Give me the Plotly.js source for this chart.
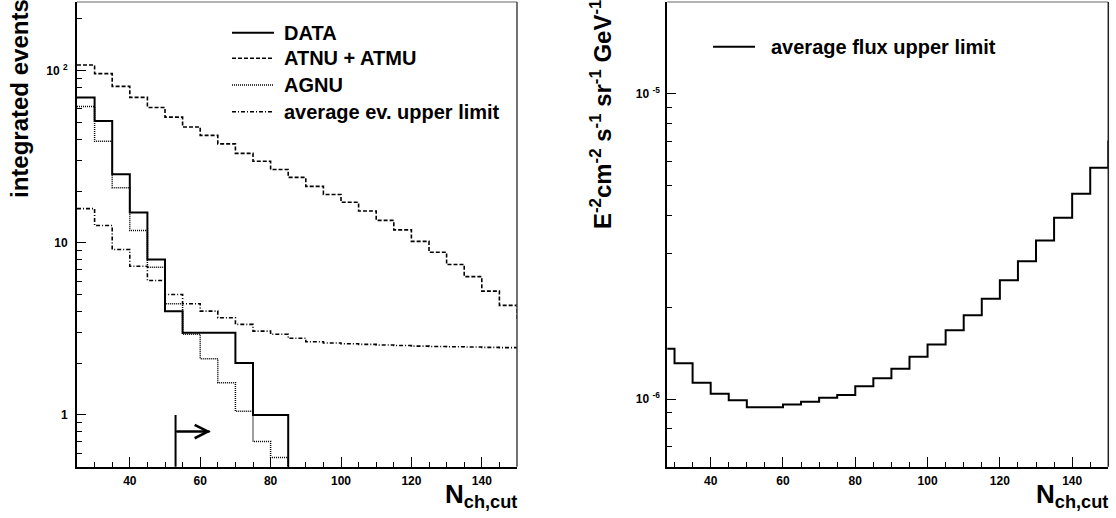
<!DOCTYPE html>
<html>
<head>
<meta charset="utf-8">
<script src="https://cdn.plot.ly/plotly-3.0.1.min.js"></script>
<style>html,body{margin:0;padding:0;background:#fff;}#chart{width:1116px;height:518px;}</style>
</head>
<body>
<div id="chart"></div>
<script>
// ---------------- data ----------------
// left panel: integrated events per cut bin (bins of width 5 starting at 25)
const binStart = 25;
const binWidth = 5;
const dataEvents   = [70, 51, 25, 15, 8, 4, 3, 3, 3, 2, 1, 1, 0, 0, 0, 0, 0, 0, 0, 0, 0, 0, 0, 0, 0, 0];
const atnuAtmu     = [108, 96.2, 81.1, 70.0, 61.2, 53.8, 47.1, 42.1, 37.6, 33.1, 29.8, 26.7, 24.0, 21.3, 19.1, 17.2, 15.3, 13.5, 11.9, 10.2, 8.82, 7.48, 6.36, 5.24, 4.33, 3.59];
const agnu         = [62, 38.9, 20.9, 11.8, 7.21, 4.43, 2.94, 2.12, 1.54, 1.05, 0.70, 0.565, 0.40, 0.30, 0.22];
const avgEvUpper   = [15.8, 12.6, 9.15, 7.31, 6.04, 5.01, 4.43, 4.01, 3.67, 3.36, 3.07, 2.94, 2.79, 2.66, 2.62, 2.59, 2.57, 2.55, 2.53, 2.51, 2.50, 2.49, 2.48, 2.47, 2.46, 2.46];
// right panel: average flux upper limit
const fluxUpper    = [1.46e-6, 1.31e-6, 1.13e-6, 1.04e-6, 0.99e-6, 0.94e-6, 0.94e-6, 0.96e-6, 0.98e-6, 1.01e-6, 1.03e-6, 1.10e-6, 1.169e-6, 1.257e-6, 1.376e-6, 1.51e-6, 1.68e-6, 1.88e-6, 2.13e-6, 2.45e-6, 2.83e-6, 3.31e-6, 3.93e-6, 4.71e-6, 5.73e-6, 6.98e-6];
const cutValue = 53;
const cutArrowEnd = 63;
const cutArrowLevel = 0.8;
const cutLineTop = 1;
const xTicksMajor = [40, 60, 80, 100, 120, 140];
const leftYTickVals = [1, 10, 100];
const leftYTickText = ['1', '10', '10 <sup>2</sup>'];
const rightYTickVals = [1e-6, 1e-5];
const rightYTickText = ['10 <sup>-6</sup>', '10 <sup>-5</sup>'];
const legendLeft = ['DATA', 'ATNU + ATMU', 'AGNU', 'average ev. upper limit'];
const legendRight = ['average flux upper limit'];

// ---------------- helpers ----------------
const FLOOR = 1e-12; // zero-content bins drawn far below the frame on log axes
function step(values) {
  const x = [], y = [];
  values.forEach((v, i) => { x.push(binStart + i * binWidth); y.push(v > 0 ? v : FLOOR); });
  x.push(binStart + values.length * binWidth);
  y.push(values[values.length - 1] > 0 ? values[values.length - 1] : FLOOR);
  return {x, y};
}
function minorX() { const a = []; for (let v = 25; v <= 150; v += 5) if (v % 20 !== 0) a.push(v); return a; }
function minorLog(lo, hi) {
  const a = [];
  for (let e = Math.floor(Math.log10(lo)) - 1; e <= Math.ceil(Math.log10(hi)); e++) {
    for (let m = 2; m <= 9; m++) { const v = m * Math.pow(10, e); if (v >= lo * 0.999 && v <= hi * 1.001) a.push(v); }
  }
  return a;
}

const W = 1116, H = 518;
const px = v => v / W, py = v => 1 - v / H;
const FONT = 'Liberation Sans, Arial, Helvetica, sans-serif';

const dataStep = step(dataEvents), atnuStep = step(atnuAtmu), agnuStep = step(agnu), avgStep = step(avgEvUpper), fluxStep = step(fluxUpper);

const traces = [
  {x: atnuStep.x, y: atnuStep.y, xaxis: 'x', yaxis: 'y', mode: 'lines', line: {shape: 'hv', color: '#000', width: 1.6, dash: '4px,2px'}, name: legendLeft[1]},
  {x: avgStep.x, y: avgStep.y, xaxis: 'x', yaxis: 'y', mode: 'lines', line: {shape: 'hv', color: '#000', width: 1.6, dash: '4px,2px,1px,2px'}, name: legendLeft[3]},
  {x: agnuStep.x, y: agnuStep.y, xaxis: 'x', yaxis: 'y', mode: 'lines', line: {shape: 'hv', color: '#000', width: 1.5, dash: '1px,1px'}, name: legendLeft[2]},
  {x: dataStep.x, y: dataStep.y, xaxis: 'x', yaxis: 'y', mode: 'lines', line: {shape: 'hv', color: '#000', width: 2}, name: legendLeft[0]},
  {x: [cutValue, cutValue], y: [cutLineTop, 0.01], xaxis: 'x', yaxis: 'y', mode: 'lines', line: {color: '#000', width: 2}, name: 'cut'},
  {x: [cutValue, cutArrowEnd - 0.3], y: [cutArrowLevel, cutArrowLevel], xaxis: 'x', yaxis: 'y', mode: 'lines', line: {color: '#000', width: 2}, name: 'cut arrow'},
  {x: fluxStep.x, y: fluxStep.y, xaxis: 'x2', yaxis: 'y2', mode: 'lines', line: {shape: 'hv', color: '#000', width: 2}, name: legendRight[0]}
];

const tickFont = {family: FONT, size: 12, color: '#000', weight: 'bold'};
function xAxis(domain, range) {
  return {
    domain: domain, range: range, showgrid: false, zeroline: false,
    showline: true, linecolor: '#000', linewidth: 2,
    ticks: 'inside', ticklen: 10, tickwidth: 1, tickcolor: '#000',
    tickmode: 'array', tickvals: xTicksMajor, ticktext: xTicksMajor.map(String),
    tickfont: tickFont, ticklabelstandoff: 2,
    minor: {ticks: 'inside', ticklen: 5, tickwidth: 1, tickcolor: '#000', tickmode: 'array', tickvals: minorX()},
    fixedrange: true
  };
}
function yAxis(domain, lo, hi, vals, text, anchor, standoff) {
  return {
    domain: domain, type: 'log', range: [Math.log10(lo), Math.log10(hi)], anchor: anchor,
    showgrid: false, zeroline: false, showline: true, linecolor: '#000', linewidth: 2,
    ticks: 'inside', ticklen: 9, tickwidth: 1, tickcolor: '#000',
    tickmode: 'array', tickvals: vals, ticktext: text, tickfont: tickFont, ticklabelstandoff: standoff,
    minor: {ticks: 'inside', ticklen: 5, tickwidth: 1, tickcolor: '#000', tickmode: 'array', tickvals: minorLog(lo, hi)},
    fixedrange: true
  };
}

const yDom = [1 - 466.7 / H, 1 - 2 / H];
const legendFont = {family: FONT, size: 20, color: '#000', weight: 'bold'};
const layout = {
  width: W, height: H, margin: {l: 0, r: 0, t: 0, b: 0},
  paper_bgcolor: '#fff', plot_bgcolor: '#fff', showlegend: false,
  xaxis: xAxis([px(77), px(517)], [25, 150]),
  yaxis: yAxis(yDom, 0.5, 251, leftYTickVals, leftYTickText, 'x', 5),
  xaxis2: Object.assign(xAxis([px(667.3), px(1108.3)], [28, 150]), {anchor: 'y2'}),
  yaxis2: yAxis(yDom, 6.0e-7, 2.0e-5, rightYTickVals, rightYTickText, 'x2', 3),
  shapes: [
    // frame top/right edges
    {type: 'line', xref: 'x domain', yref: 'y domain', x0: 0, x1: 1, y0: 1, y1: 1, line: {color: '#666', width: 1}},
    {type: 'line', xref: 'x domain', yref: 'y domain', x0: 1, x1: 1, y0: 0, y1: 1, line: {color: '#444', width: 1.5}},
    {type: 'line', xref: 'x2 domain', yref: 'y2 domain', x0: 0, x1: 1, y0: 1, y1: 1, line: {color: '#666', width: 1}},
    {type: 'line', xref: 'x2 domain', yref: 'y2 domain', x0: 1, x1: 1, y0: 0, y1: 1, line: {color: '#222', width: 1.5}},
    // legend samples (left)
    {type: 'line', xref: 'paper', yref: 'paper', x0: px(232), x1: px(274), y0: py(32.7), y1: py(32.7), line: {color: '#000', width: 2}},
    {type: 'line', xref: 'paper', yref: 'paper', x0: px(232), x1: px(274), y0: py(58.3), y1: py(58.3), line: {color: '#000', width: 1.6, dash: '4px,2px'}},
    {type: 'line', xref: 'paper', yref: 'paper', x0: px(232), x1: px(274), y0: py(85), y1: py(85), line: {color: '#000', width: 1.5, dash: '1px,1px'}},
    {type: 'line', xref: 'paper', yref: 'paper', x0: px(232), x1: px(274), y0: py(111.7), y1: py(111.7), line: {color: '#000', width: 1.6, dash: '4px,2px,1px,2px'}},
    // legend sample (right)
    {type: 'line', xref: 'paper', yref: 'paper', x0: px(713), x1: px(755), y0: py(46.7), y1: py(46.7), line: {color: '#000', width: 2}}
  ],
  annotations: [
    // legend texts
    ...legendLeft.map((t, i) => ({xref: 'paper', yref: 'paper', x: px(282), y: py([32.7, 58.3, 85, 111.7][i]), xanchor: 'left', yanchor: 'middle', showarrow: false, text: t, font: legendFont})),
    {xref: 'paper', yref: 'paper', x: px(769), y: py(46.7), xanchor: 'left', yanchor: 'middle', showarrow: false, text: legendRight[0], font: legendFont},
    // axis titles
    {xref: 'paper', yref: 'paper', x: px(20), y: py(99), xanchor: 'center', yanchor: 'middle', textangle: -90, showarrow: false, text: 'integrated events', font: {family: FONT, size: 24, color: '#000', weight: 'bold'}},
    {xref: 'paper', yref: 'paper', x: px(601), y: py(115), xanchor: 'center', yanchor: 'middle', textangle: -90, showarrow: false, text: 'E<sup>-2</sup>cm<sup>-2</sup> s<sup>-1</sup> sr<sup>-1</sup> GeV<sup>-1</sup>', font: {family: FONT, size: 24, color: '#000', weight: 'bold'}},
    {xref: 'paper', yref: 'paper', x: px(519), y: py(495), xanchor: 'right', yanchor: 'middle', showarrow: false, text: 'N<sub>ch,cut</sub>', font: {family: FONT, size: 26, color: '#000', weight: 'bold'}},
    {xref: 'paper', yref: 'paper', x: px(1110), y: py(495), xanchor: 'right', yanchor: 'middle', showarrow: false, text: 'N<sub>ch,cut</sub>', font: {family: FONT, size: 26, color: '#000', weight: 'bold'}},
    // cut arrow head
    {xref: 'x', yref: 'y', axref: 'x', ayref: 'y', x: cutArrowEnd, y: Math.log10(cutArrowLevel), ax: cutValue, ay: Math.log10(cutArrowLevel), showarrow: true, arrowhead: 5, arrowsize: 1.3, arrowwidth: 2, arrowcolor: '#000', text: ''}
  ]
};

Plotly.newPlot('chart', traces, layout, {staticPlot: true, displayModeBar: false});
</script>
</body>
</html>
